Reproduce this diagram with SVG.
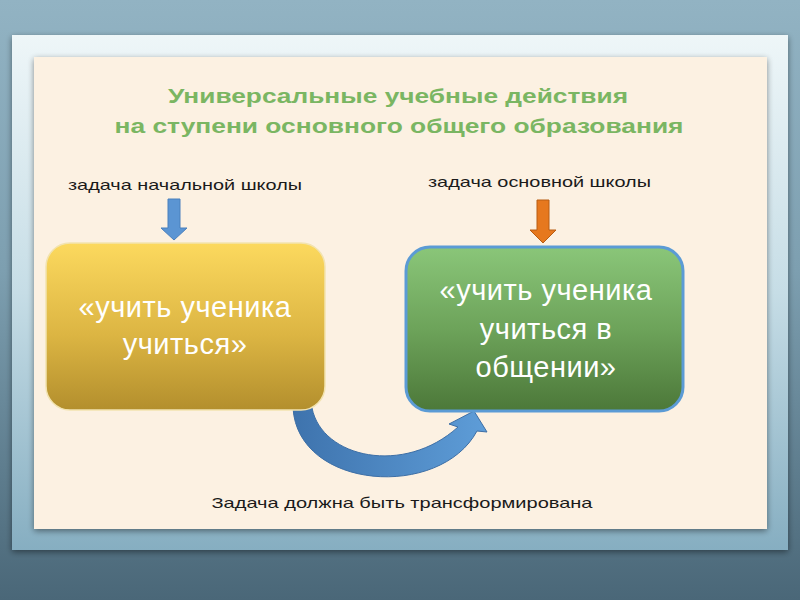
<svg xmlns="http://www.w3.org/2000/svg" width="800" height="600" viewBox="0 0 800 600">
<defs>
<linearGradient id="bg" x1="0" y1="0" x2="0" y2="1">
<stop offset="0" stop-color="#92b3c3"/><stop offset="0.45" stop-color="#7d9fb0"/><stop offset="1" stop-color="#4a6778"/>
</linearGradient>
<linearGradient id="frame" x1="0" y1="0" x2="0" y2="1">
<stop offset="0" stop-color="#eef6f8"/><stop offset="0.5" stop-color="#c6dde6"/><stop offset="1" stop-color="#86aec1"/>
</linearGradient>
<linearGradient id="yel" x1="0" y1="0" x2="0" y2="1">
<stop offset="0" stop-color="#fcd95e"/><stop offset="0.55" stop-color="#dcb543"/><stop offset="1" stop-color="#b38f2d"/>
</linearGradient>
<linearGradient id="grn" x1="0" y1="0" x2="0" y2="1">
<stop offset="0" stop-color="#8ac679"/><stop offset="0.5" stop-color="#6da35a"/><stop offset="1" stop-color="#4c7839"/>
</linearGradient>
<linearGradient id="blu" x1="0" y1="0" x2="1" y2="0">
<stop offset="0" stop-color="#3e73ad"/><stop offset="1" stop-color="#5e9dd8"/>
</linearGradient>
<filter id="sh" x="-10%" y="-10%" width="120%" height="120%">
<feGaussianBlur in="SourceAlpha" stdDeviation="3"/><feOffset dx="0" dy="2"/>
<feComponentTransfer><feFuncA type="linear" slope="0.45"/></feComponentTransfer>
<feMerge><feMergeNode/><feMergeNode in="SourceGraphic"/></feMerge>
</filter>
</defs>
<style>
.title{font-family:"Liberation Sans",Arial,sans-serif;font-weight:bold;font-size:21px;fill:#7ab662;text-anchor:middle}
.lbl{font-family:"Liberation Sans",Arial,sans-serif;font-size:15px;fill:#1a1a1a}
.box{font-family:"Liberation Sans",Arial,sans-serif;font-size:29px;letter-spacing:0.5px;fill:#ffffff;text-anchor:middle}
</style>
<rect x="0" y="0" width="800" height="600" fill="url(#bg)"/>
<rect x="12" y="35" width="776" height="515" fill="url(#frame)" filter="url(#sh)"/>
<rect x="34" y="57" width="733" height="472" fill="#fcf1e2" filter="url(#sh)"/>
<g id="title">
<text class="title" x="398" y="103" textLength="460" lengthAdjust="spacingAndGlyphs">Универсальные учебные действия</text>
<text class="title" x="399" y="133" textLength="569" lengthAdjust="spacingAndGlyphs">на ступени основного общего образования</text>
</g>
<g id="label-primary"><text class="lbl" x="68" y="190" textLength="234" lengthAdjust="spacingAndGlyphs">задача начальной школы</text></g>
<g id="label-basic"><text class="lbl" x="428" y="187" textLength="223" lengthAdjust="spacingAndGlyphs">задача основной школы</text></g>
<g id="connectors">
<path d="M168 199 H180 V228 H187 L174 240 L161 228 H168 Z" fill="#5b95d3" stroke="#4a80bd" stroke-width="1"/>
<path d="M537 200 H549 V230 H556 L543 243 L530 230 H537 Z" fill="#e6781e" stroke="#b85c12" stroke-width="1"/>
<path d="M293 408 L312 408 C322 458 404 476 458 427 L449 424 L474 411 L487 432 L477 431 C440 500 298 490 293 408 Z" fill="url(#blu)" stroke="#3d6fa6" stroke-width="1"/>
</g>
<g id="node-primary">
<rect x="46" y="243" width="279" height="167" rx="24" fill="url(#yel)" stroke="#f2e3b0" stroke-width="1.5"/>
<text class="box" x="185" y="317">«учить ученика</text>
<text class="box" x="185" y="354">учиться»</text>
</g>
<g id="node-basic">
<rect x="406" y="247" width="277" height="164" rx="24" fill="url(#grn)" stroke="#5b9bd5" stroke-width="3"/>
<text class="box" x="546" y="300">«учить ученика</text>
<text class="box" x="546" y="339">учиться в</text>
<text class="box" x="546" y="377">общении»</text>
</g>
<g id="caption"><text class="lbl" x="402" y="508" text-anchor="middle" font-size="19" textLength="381" lengthAdjust="spacingAndGlyphs">Задача должна быть трансформирована</text></g>
</svg>
